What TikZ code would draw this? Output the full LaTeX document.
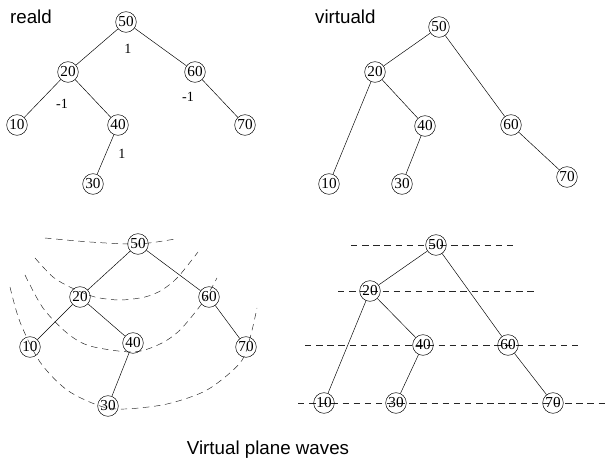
\documentclass[tikz,border=0pt]{standalone}
\usepackage{fontspec}
\setmainfont{Liberation Serif}
\setsansfont{Liberation Sans}
\begin{document}
\begin{tikzpicture}[x = 0.03cm, y = -0.03cm, font = \fontsize{13}{15}\selectfont,
        vertex/.style = {draw, circle, inner sep = 0pt, minimum size = 0.62cm},
        caption/.style = {font = \sffamily\fontsize{16}{18}\selectfont},
        weight/.style = {font = \fontsize{12}{14}\selectfont},
        wave/.style = {dash pattern = on 5.5pt off 4pt, black!85}]
    \useasboundingbox (0, 0) rectangle (606, 461);

    % real tree
    \node [caption, anchor = west] (reald) at (6, 17) {reald};
    \node [vertex] (r50) at (126, 22) {50};
    \node [vertex] (r20) at (68, 72) {20};
    \node [vertex] (r60) at (195, 72) {60};
    \node [vertex] (r10) at (17, 125) {10};
    \node [vertex] (r40) at (118, 125) {40};
    \node [vertex] (r70) at (245, 125) {70};
    \node [vertex] (r30) at (93, 184) {30};
    \draw
        (r50) -- (r20) (r50) -- (r60)
        (r20) -- (r10) (r20) -- (r40)
        (r60) -- (r70) (r40) -- (r30)
    ;
    \node [weight] (w50) at (128, 49) {1};
    \node [weight] (w20) at (62, 104) {-1};
    \node [weight] (w60) at (188, 97) {-1};
    \node [weight] (w40) at (122, 154) {1};

    % virtual tree
    \node [caption, anchor = west] (virtuald) at (311, 17) {virtuald};
    \node [vertex] (v50) at (439, 27) {50};
    \node [vertex] (v20) at (375, 72) {20};
    \node [vertex] (v40) at (425, 126) {40};
    \node [vertex] (v60) at (511, 125) {60};
    \node [vertex] (v10) at (329, 184) {10};
    \node [vertex] (v30) at (402, 184) {30};
    \node [vertex] (v70) at (567, 177) {70};
    \draw
        (v50) -- (v20) (v50) -- (v60)
        (v20) -- (v10) (v20) -- (v40)
        (v40) -- (v30) (v60) -- (v70)
    ;

    % curved waves
    \draw [wave]
        plot [smooth] coordinates {(45, 238) (90, 242) (138, 244) (175, 239)}
        plot [smooth] coordinates {(35, 258) (53, 277) (72, 288) (95, 297) (120, 300)
            (145, 297) (162, 290) (178, 277) (198, 252)}
        plot [smooth] coordinates {(25, 275) (43, 308) (67, 333) (90, 346) (133, 352)
            (160, 344) (180, 330) (203, 302) (217, 278)}
        plot [smooth] coordinates {(10, 287) (20, 322) (40, 362) (67, 390) (100, 406)
            (125, 409) (167, 404) (207, 390) (240, 363) (250, 338) (257, 308)}
    ;
    \node [vertex] (c50) at (138, 244) {50};
    \node [vertex] (c20) at (80, 297) {20};
    \node [vertex] (c60) at (209, 297) {60};
    \node [vertex] (c10) at (30, 347) {10};
    \node [vertex] (c40) at (133, 343) {40};
    \node [vertex] (c70) at (246, 347) {70};
    \node [vertex] (c30) at (108, 406) {30};
    \draw
        (c50) -- (c20) (c50) -- (c60)
        (c20) -- (c10) (c20) -- (c40)
        (c60) -- (c70) (c40) -- (c30)
    ;

    % plane waves
    \draw [wave]
        (351, 245) -- (513, 245)
        (338, 291) -- (537, 291)
        (305, 345) -- (578, 345)
        (298, 403) -- (606, 403)
    ;
    \node [vertex] (p50) at (436, 245) {50};
    \node [vertex] (p20) at (370, 291) {20};
    \node [vertex] (p40) at (423, 345) {40};
    \node [vertex] (p60) at (508, 345) {60};
    \node [vertex] (p10) at (324, 403) {10};
    \node [vertex] (p30) at (396, 403) {30};
    \node [vertex] (p70) at (553, 403) {70};
    \draw
        (p50) -- (p20) (p50) -- (p60)
        (p20) -- (p10) (p20) -- (p40)
        (p40) -- (p30) (p60) -- (p70)
    ;

    \node [caption] (title) at (268, 450) {Virtual plane waves};
\end{tikzpicture}
\end{document}
